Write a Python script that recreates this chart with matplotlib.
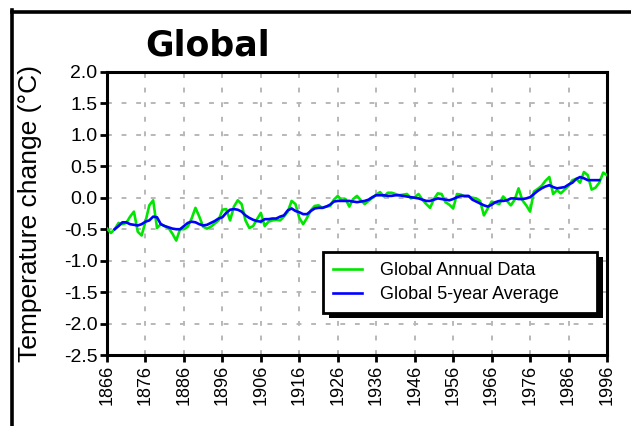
import matplotlib
matplotlib.use('Agg')
import matplotlib.pyplot as plt
from matplotlib import patches
from matplotlib.lines import Line2D

# Annual global temperature anomaly, 1866-1996
annual_years = list(range(1866, 1997))
annual_values = [
    -0.49, -0.56, -0.50, -0.40, -0.42, -0.40, -0.30, -0.22, -0.54, -0.60,
    -0.38, -0.12, -0.04, -0.48, -0.42, -0.45, -0.48, -0.57, -0.68, -0.50,
    -0.50, -0.46, -0.33, -0.16, -0.30, -0.46, -0.49, -0.46, -0.41, -0.36,
    -0.19, -0.18, -0.36, -0.14, -0.04, -0.10, -0.36, -0.48, -0.45, -0.34,
    -0.24, -0.45, -0.38, -0.36, -0.35, -0.36, -0.30, -0.22, -0.05, -0.10,
    -0.32, -0.42, -0.32, -0.20, -0.13, -0.12, -0.16, -0.14, -0.13, -0.03,
    0.03, -0.04, -0.02, -0.14, -0.02, 0.03, -0.04, -0.10, -0.05, 0.00,
    0.05, 0.09, 0.02, 0.08, 0.08, 0.06, 0.04, 0.05, 0.06, -0.01,
    0.01, 0.06, -0.03, -0.10, -0.16, -0.02, 0.07, 0.06, -0.07, -0.11,
    -0.17, 0.06, 0.05, 0.02, 0.02, 0.00, -0.01, -0.05, -0.28, -0.17,
    -0.06, -0.08, -0.10, 0.02, -0.05, -0.12, -0.03, 0.15, -0.04, -0.12,
    -0.22, 0.10, 0.14, 0.19, 0.27, 0.33, 0.06, 0.12, 0.07, 0.13,
    0.19, 0.28, 0.30, 0.24, 0.41, 0.36, 0.13, 0.16, 0.24, 0.40,
    0.36,
]

# 5-year running average, 1868-1994
avg_years = list(range(1868, 1995))
avg_values = [
    -0.50, -0.45, -0.39, -0.39, -0.42, -0.43, -0.44, -0.42, -0.38, -0.36,
    -0.30, -0.31, -0.42, -0.45, -0.47, -0.49, -0.50, -0.50, -0.45, -0.40,
    -0.38, -0.39, -0.42, -0.44, -0.43, -0.40, -0.37, -0.33, -0.31, -0.24,
    -0.19, -0.18, -0.19, -0.22, -0.28, -0.32, -0.35, -0.37, -0.38, -0.34,
    -0.34, -0.33, -0.33, -0.30, -0.28, -0.20, -0.17, -0.21, -0.23, -0.26,
    -0.26, -0.21, -0.17, -0.16, -0.16, -0.14, -0.11, -0.06, -0.05, -0.05,
    -0.05, -0.05, -0.06, -0.07, -0.06, -0.05, -0.03, 0.01, 0.04, 0.04,
    0.04, 0.03, 0.03, 0.04, 0.04, 0.03, 0.02, 0.01, 0.00, -0.01,
    -0.03, -0.05, -0.05, -0.03, -0.01, -0.02, -0.03, -0.04, -0.02, 0.01,
    0.03, 0.03, 0.03, -0.03, -0.06, -0.09, -0.12, -0.14, -0.11, -0.07,
    -0.05, -0.05, -0.04, -0.01, -0.01, -0.02, -0.02, -0.01, 0.01, 0.06,
    0.11, 0.15, 0.18, 0.20, 0.17, 0.15, 0.16, 0.17, 0.21, 0.24,
    0.30, 0.33, 0.31, 0.28, 0.28, 0.28, 0.28,
]

x_ticks = list(range(1866, 1997, 10))
y_ticks = [2.0, 1.5, 1.0, 0.5, 0.0, -0.5, -1.0, -1.5, -2.0, -2.5]

plt.rcParams['font.family'] = ['Liberation Sans', 'DejaVu Sans']

fig = plt.figure(figsize=(6.31, 4.26), dpi=100)
fig.patch.set_facecolor('white')
ax = fig.add_axes([107 / 631, 1 - 355 / 426, 500 / 631, 283 / 426])

ax.plot(annual_years, annual_values, color='#00e600', lw=1.9,
        label='Global Annual Data', zorder=3)
ax.plot(avg_years, avg_values, color='#0000ff', lw=1.9,
        label='Global 5-year Average', zorder=4)

ax.set_xlim(1866, 1996)
ax.set_ylim(-2.5, 2.0)
ax.set_xticks(x_ticks)
ax.set_xticklabels([str(y) for y in x_ticks], rotation=90, fontsize=13)
ax.set_yticks(y_ticks)
ax.set_yticklabels(['%.1f' % v for v in y_ticks], fontsize=14)
ax.tick_params(direction='out', length=5, width=2, pad=2)

ax.grid(True, color='#b8b8b8', linestyle=(0, (2.5, 5)), linewidth=1.4)
ax.set_axisbelow(True)
for sp in ax.spines.values():
    sp.set_linewidth(2.2)

ax.set_ylabel('Temperature change (°C)', fontsize=19)
ax.yaxis.set_label_coords(-0.13, 0.5)

fig.text(208 / 631, 1 - 45 / 426, 'Global', fontsize=25, fontweight='bold',
         family='DejaVu Sans', ha='center', va='center')

# outer frame (top and left only)
fig.add_artist(Line2D([11.5 / 631, 1], [1 - 11.5 / 426] * 2,
                      transform=fig.transFigure, color='black', lw=2.6))
fig.add_artist(Line2D([11.5 / 631] * 2, [0, 1 - 10 / 426],
                      transform=fig.transFigure, color='black', lw=2.6))

leg = ax.legend(loc='lower left', bbox_to_anchor=(0.432, 0.148, 0.548, 0.209),
                mode='expand', borderaxespad=0, fontsize=13, frameon=True,
                fancybox=False, framealpha=1, facecolor='white',
                handlelength=1.6, handletextpad=1.0,
                labelspacing=0.4, borderpad=0.55)
leg.get_frame().set_edgecolor('black')
leg.get_frame().set_linewidth(2)
leg.set_zorder(10)

# hard drop shadow behind the legend box
fig.canvas.draw()
bb = leg.get_window_extent()
shadow = patches.Rectangle((bb.x0 + 6, bb.y0 - 5), bb.width, bb.height,
                           transform=None, facecolor='black', edgecolor='none',
                           zorder=9)
ax.add_artist(shadow)

plt.savefig('out.png', dpi=100, facecolor='white')
plt.close()
